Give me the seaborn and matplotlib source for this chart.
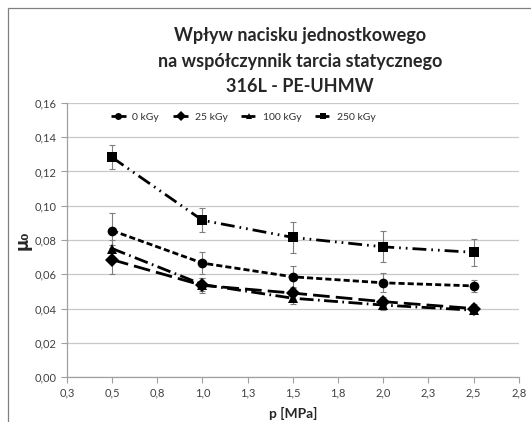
import numpy as np
import pandas as pd
import seaborn as sns
import matplotlib.pyplot as plt
from matplotlib.patches import Rectangle
from matplotlib.ticker import FixedLocator, FixedFormatter

# data
p = [0.5, 1.0, 1.5, 2.0, 2.5]
series = ['0 kGy', '25 kGy', '100 kGy', '250 kGy']
mu_0 = [0.0855, 0.0665, 0.0585, 0.0550, 0.0532]
mu_25 = [0.0685, 0.0535, 0.0490, 0.0440, 0.0400]
mu_100 = [0.0750, 0.0540, 0.0460, 0.0420, 0.0390]
mu_250 = [0.1282, 0.0915, 0.0815, 0.0760, 0.0728]
err_0 = [0.0100, 0.0065, 0.0065, 0.0055, 0.0035]
err_25 = [0.0085, 0.0045, 0.0035, 0.0030, 0.0025]
err_100 = [0.0050, 0.0040, 0.0035, 0.0030, 0.0025]
err_250 = [0.0070, 0.0070, 0.0090, 0.0090, 0.0080]
x_ticks = [0.25, 0.5, 0.75, 1.0, 1.25, 1.5, 1.75, 2.0, 2.25, 2.5, 2.75]
x_labels = ['0,3', '0,5', '0,8', '1,0', '1,3', '1,5', '1,8', '2,0', '2,3', '2,5', '2,8']
y_ticks = [0.0, 0.02, 0.04, 0.06, 0.08, 0.10, 0.12, 0.14, 0.16]
y_labels = ['0,00', '0,02', '0,04', '0,06', '0,08', '0,10', '0,12', '0,14', '0,16']

values = [mu_0, mu_25, mu_100, mu_250]
errors = [err_0, err_25, err_100, err_250]

df = pd.DataFrame({
    'p': p * 4,
    'mu': sum(values, []),
    'dose': [s for s in series for _ in p],
})

sns.set_style('white')
plt.rcParams['font.family'] = ['Lato', 'DejaVu Sans']

fig = plt.figure(figsize=(5.31, 4.22), dpi=100)
ax = fig.add_axes([0.126, 0.1066, 0.851, 0.6494])

dashes = {'0 kGy': (2.2, 1.1), '25 kGy': (6, 2.2), '100 kGy': (5, 1.6, 0.6, 1.6),
          '250 kGy': (5, 1.8, 0.6, 1.8, 0.6, 1.8)}
markers = {'0 kGy': 'o', '25 kGy': 'D', '100 kGy': '^', '250 kGy': 's'}
sizes = {'0 kGy': 7, '25 kGy': 5, '100 kGy': 7, '250 kGy': 7}

for s, v, e in zip(series, values, errors):
    ax.errorbar(p, v, yerr=e, fmt='none', ecolor='#7f7f7f', elinewidth=0.8,
                capsize=2.5, capthick=0.8, zorder=2)

sns.lineplot(data=df, x='p', y='mu', hue='dose', style='dose',
             palette=['black'] * 4, dashes=dashes, markers=markers,
             markersize=7, linewidth=2.0, markeredgewidth=0, ax=ax, zorder=3)
for line, s in zip(ax.lines[-4:], series):
    line.set_markersize(sizes[s])

ax.set_xlim(0.25, 2.75)
ax.set_ylim(0, 0.16)
ax.xaxis.set_major_locator(FixedLocator(x_ticks))
ax.xaxis.set_major_formatter(FixedFormatter(x_labels))
ax.yaxis.set_major_locator(FixedLocator(y_ticks))
ax.yaxis.set_major_formatter(FixedFormatter(y_labels))
ax.tick_params(axis='both', labelsize=8, colors='#404040', length=4,
               direction='out', bottom=True, left=True, color='#a0a0a0', width=0.8)
ax.grid(axis='y', color='#c8c8c8', linewidth=0.9)
ax.grid(axis='x', visible=False)
for side in ['top', 'right']:
    ax.spines[side].set_visible(False)
for side in ['left', 'bottom']:
    ax.spines[side].set_color('#a0a0a0')
    ax.spines[side].set_linewidth(0.9)

ax.set_xlabel('p [MPa]', fontsize=10, fontweight='bold', labelpad=6)
ax.set_ylabel('μ₀', fontsize=12, fontweight='bold', labelpad=2,
              family=['DejaVu Sans'])

handles, labels = ax.get_legend_handles_labels()
for h in handles:
    h.set_markersize(5)
leg = ax.legend(handles, labels, loc='upper center', bbox_to_anchor=(0.39, 1.0),
                ncol=4, frameon=False, fontsize=7.5, handlelength=1.5,
                columnspacing=1.3, handletextpad=0.6)
for t in leg.get_texts():
    t.set_color('#303030')

fig.text(0.565, 0.935, 'Wpływ nacisku jednostkowego\nna współczynnik tarcia statycznego\n316L - PE-UHMW',
         ha='center', va='top', fontsize=13, fontweight='bold', linespacing=1.6)

fig.patches.append(Rectangle((8 / 531, -0.1), 1.2, 1 - 8 / 422 + 0.1,
                             transform=fig.transFigure, fill=False,
                             edgecolor='#808080', linewidth=0.9))

fig.savefig('out.png', dpi=100)
